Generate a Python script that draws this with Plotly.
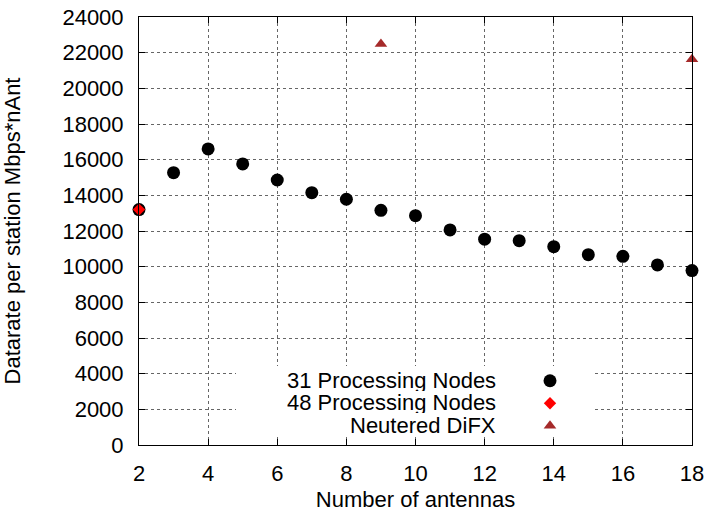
import plotly.graph_objects as go

antennas = [2, 3, 4, 5, 6, 7, 8, 9, 10, 11, 12, 13, 14, 15, 16, 17, 18]
nodes31 = [13200, 15270, 16600, 15760, 14860, 14150, 13780, 13160, 12860,
           12060, 11540, 11460, 11120, 10670, 10580, 10100, 9780]
nodes48_x = [2]
nodes48 = [13200]
difx_x = [9, 18]
difx = [22490, 21630]

x_ticks = [2, 4, 6, 8, 10, 12, 14, 16, 18]
y_ticks = list(range(0, 24001, 2000))
y_tick_text = [str(v) for v in y_ticks]
labels = ["31 Processing Nodes", "48 Processing Nodes", "Neutered DiFX"]

FONT = "Liberation Sans, Arial, Helvetica, sans-serif"
W, H = 710, 512
L, R, T, B = 139, 18, 17, 67
PW, PH = W - L - R, H - T - B

def px(xp):
    return (xp - L) / PW

def py(yp):
    return (H - B - yp) / PH

fig = go.Figure()
fig.add_trace(go.Scatter(x=antennas, y=nodes31, mode="markers", name="",
                         cliponaxis=False, hovertext=labels[0],
                         marker=dict(symbol="circle", size=13, color="black")))
fig.add_trace(go.Scatter(x=nodes48_x, y=nodes48, mode="markers", name="",
                         cliponaxis=False, hovertext=labels[1],
                         marker=dict(symbol="diamond", size=9.5, color="#ff0000")))
fig.add_trace(go.Scatter(x=difx_x, y=difx, mode="markers", name="",
                         cliponaxis=False, hovertext=labels[2],
                         marker=dict(symbol="triangle-up", size=11, color="#a52a2a")))

axis_common = dict(
    showline=True, linecolor="black", linewidth=1, mirror="ticks",
    ticks="inside", ticklen=6, tickcolor="black", tickwidth=1,
    showgrid=True, gridcolor="#666666", griddash="dot", gridwidth=1,
    zeroline=False, automargin=False,
    tickfont=dict(family=FONT, size=22, color="black"),
)

fig.update_xaxes(range=[2, 18], tickmode="array", tickvals=x_ticks,
                 ticktext=[str(v) for v in x_ticks],
                 ticklabelstandoff=9,
                 title=dict(text="Number of antennas", standoff=8,
                            font=dict(family=FONT, size=22, color="black")),
                 **axis_common)
fig.update_yaxes(range=[0, 24000], tickmode="array", tickvals=y_ticks,
                 ticktext=y_tick_text,
                 ticklabelstandoff=10,
                 title=dict(text="Datarate per station Mbps*nAnt", standoff=38,
                            font=dict(family=FONT, size=22, color="black")),
                 **axis_common)

# white key box hiding the grid
fig.add_shape(type="rect", xref="paper", yref="paper",
              x0=px(236), x1=px(595), y0=py(437), y1=py(366),
              fillcolor="white", line=dict(width=0), layer="above")

row_y = [380, 402.5, 425]
for lab, yy in zip(labels, row_y):
    fig.add_annotation(xref="paper", yref="paper", x=px(498), y=py(yy),
                       text=lab, showarrow=False, xanchor="right", yanchor="middle",
                       height=21,
                       font=dict(family=FONT, size=22, color="black"))

fig.update_layout(
    width=W, height=H,
    margin=dict(l=L, r=R, t=T, b=B, autoexpand=False),
    paper_bgcolor="white", plot_bgcolor="white",
    showlegend=True,
    legend=dict(x=px(530), y=py(364.5), xanchor="left", yanchor="top",
                bgcolor="rgba(0,0,0,0)", borderwidth=0,
                font=dict(family=FONT, size=15, color="black"),
                tracegroupgap=0, itemsizing="trace"),
)

fig.write_html("out.html")
